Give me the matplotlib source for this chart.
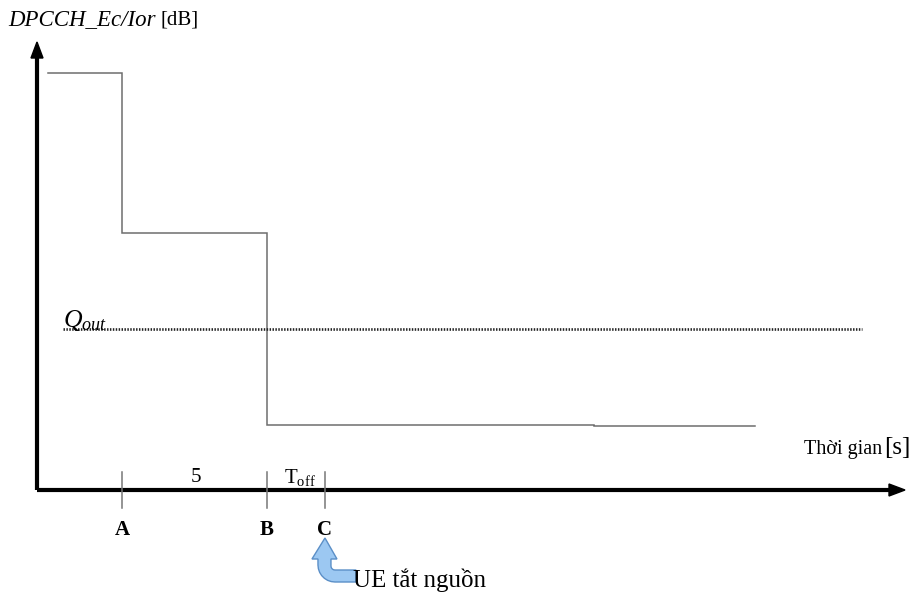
import matplotlib
matplotlib.use("Agg")
import matplotlib.pyplot as plt
import numpy as np
from matplotlib.patches import Polygon

# ---- data (time units, dB-like units) ----
step_t = [0.38, 2.93, 2.93, 7.93, 7.93, 19.2, 19.2, 24.76]
step_v = [41.7, 41.7, 25.7, 25.7, 6.55, 6.55, 6.45, 6.45]
q_out_level = 16.1
q_out_span = [0.9, 28.45]
marker_names = ["A", "B", "C"]
marker_t = [2.93, 7.93, 9.93]
interval_labels = ["5", "T$_{\\mathrm{off}}$"]
y_label = "DPCCH_Ec/Ior"
y_unit = "[dB]"
x_label = "Thời gian"
x_unit = "[s]"
event_label = "UE tắt nguồn"

PX = 29.0   # px per time unit
PY = 10.0   # px per value unit
X0, Y0 = 37, 490
W, H = 915, 593

serif = "Liberation Serif"
plt.rcParams["mathtext.fontset"] = "custom"
plt.rcParams["mathtext.rm"] = serif
plt.rcParams["mathtext.it"] = serif + ":italic"

fig = plt.figure(figsize=(W / 100, H / 100), dpi=100)
ax = fig.add_axes([0, 0, 1, 1])
ax.set_xlim(-X0 / PX, (W - X0) / PX)
ax.set_ylim((Y0 - H) / PY, Y0 / PY)
ax.axis("off")


def px(xp):
    return (xp - X0) / PX


def py(yp):
    return (Y0 - yp) / PY


# step curve
ax.plot(step_t, step_v, color="#6e6e6e", lw=1.1, solid_joinstyle="miter")

# Qout dotted line
ax.plot(q_out_span, [q_out_level, q_out_level], color="#222222", lw=1.9,
        linestyle=(0, (0.55, 0.55)))
ax.text(q_out_span[0], q_out_level + 0.2, "$\\mathit{Q}_{\\mathit{out}}$",
        family=serif, fontsize=18.5, ha="left", va="baseline")

# axes lines
x_end = px(905)
y_end = py(42)
ax.plot([0, x_end - 0.45], [0, 0], color="black", lw=3.0, solid_capstyle="butt")
ax.plot([0, 0], [0, y_end - 1.3], color="black", lw=3.0, solid_capstyle="butt")
ax.add_patch(Polygon([[x_end, 0], [x_end - 16 / PX, 6 / PY], [x_end - 16 / PX, -6 / PY]],
                     closed=True, color="black"))
ax.add_patch(Polygon([[0, y_end], [-6 / PX, y_end - 16 / PY], [6 / PX, y_end - 16 / PY]],
                     closed=True, color="black"))

# tick marks and labels
for name, t in zip(marker_names, marker_t):
    ax.plot([t, t], [1.8, -1.8], color="#777777", lw=1.1)
    ax.text(t, py(530), name, family=serif, fontsize=15, fontweight="bold",
            ha="center", va="center")

ax.text((marker_t[0] + marker_t[1]) / 2 + 0.05, py(477), interval_labels[0],
        family=serif, fontsize=15, ha="center", va="center")
ax.text((marker_t[1] + marker_t[2]) / 2 + 0.15, py(477), interval_labels[1],
        family=serif, fontsize=15, ha="center", va="center")

fig.canvas.draw()
r = fig.canvas.get_renderer()
inv = ax.transData.inverted()

# y-axis title
t1 = ax.text(px(8), py(25), y_label, family=serif, fontsize=16.5,
             style="italic", ha="left", va="baseline")
bb = t1.get_window_extent(r)
xr = inv.transform((bb.x1, 0))[0]
ax.text(xr + 5 / PX, py(25), y_unit, family=serif, fontsize=15,
        ha="left", va="baseline")

# x-axis title
t2 = ax.text(px(911), py(454), x_unit, family=serif, fontsize=18,
             ha="right", va="baseline")
bb2 = t2.get_window_extent(r)
xl = inv.transform((bb2.x0, 0))[0]
ax.text(xl - 2 / PX, py(454), x_label, family=serif, fontsize=14.5,
        ha="right", va="baseline")

# event arrow (UE switches off at C): bent block arrow, pixel offsets from the tip
tc = marker_t[2]
tip_y = py(538)
shape = [(0, 0), (12, 21), (6, 21), (6, 28)]
ri = 4
th = np.linspace(np.pi, 1.5 * np.pi, 6)
shape += [(6 + ri + ri * np.cos(a), 28 - ri * np.sin(a) * 1) for a in th][1:]
shape += [(31, 32), (31, 44), (10, 44)]
R = 17
th2 = np.linspace(0.5 * np.pi, np.pi, 8)
shape += [(-7 + R + R * np.cos(a), 44 - R + R * np.sin(a)) for a in th2][1:]
shape += [(-7, 21), (-13, 21)]
pts = [(tc + dx / PX, tip_y - dy / PY) for dx, dy in shape]
ax.add_patch(Polygon(pts, closed=True, facecolor="#9cc8f2", edgecolor="#5b8fc7",
                     lw=1.0, joinstyle="miter"))
ax.text(px(353), py(587), event_label, family=serif, fontsize=18,
        ha="left", va="baseline")

fig.savefig("out.png", dpi=100)
